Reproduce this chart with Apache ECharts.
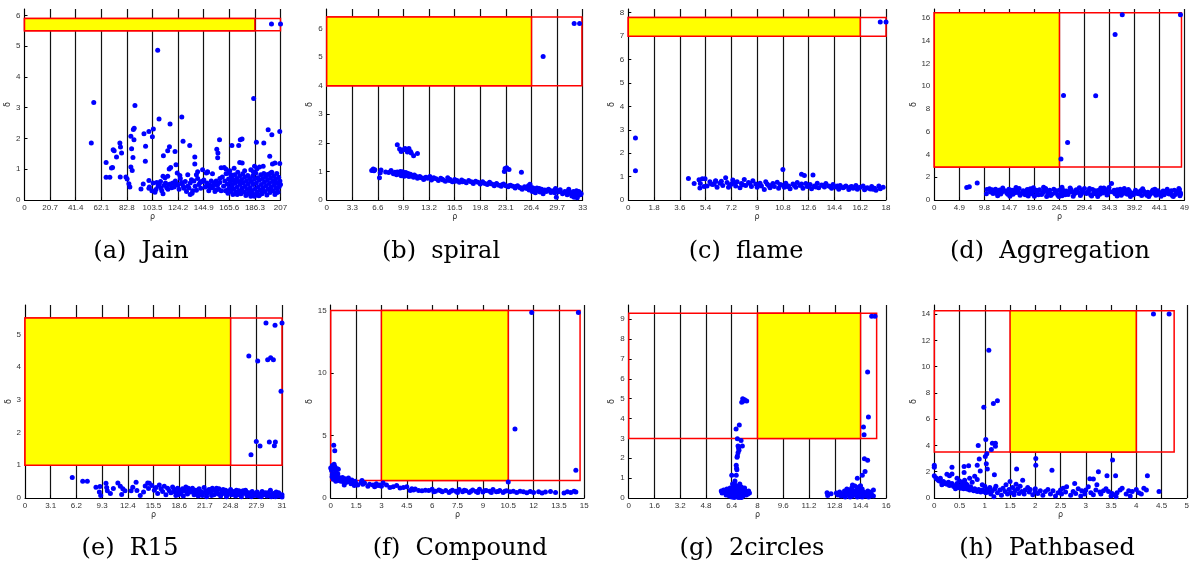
<!DOCTYPE html>
<html>
<head>
<meta charset="utf-8">
<script src="https://cdn.jsdelivr.net/npm/echarts@6/dist/echarts.min.js"></script>
<style>
html, body { margin: 0; padding: 0; background: #fff; }
#chart { width: 1192px; height: 567px; }
</style>
</head>
<body>
<div id="chart"></div>
<script>
// Decision graphs (rho vs delta) for eight benchmark data sets.
const captions = ['(a)  Jain', '(b)  spiral', '(c)  flame', '(d)  Aggregation',
                  '(e)  R15', '(f)  Compound', '(g)  2circles', '(h)  Pathbased'];

// Axis ranges and tick steps per panel
const xMax  = [207, 33, 18, 49, 31, 15, 16, 5];
const xStep = [20.7, 3.3, 1.8, 4.9, 3.1, 1.5, 1.6, 0.5];
const yMax  = [6.21, 6.68, 8.16, 16.77, 5.9, 15.45, 9.72, 14.69];
const yStep = [1, 1, 1, 2, 1, 5, 1, 2];

// Selection boxes [rhoMin, rhoMax, deltaMin, deltaMax]
const yellowBoxes = [[0, 186.3, 5.5, 5.9], [0, 26.4, 4, 6.4], [0, 16.2, 7, 7.8], [0, 24.5, 2.9, 16.45],
                     [0, 24.8, 1, 5.5], [3, 10.5, 1.4, 15], [8, 14.4, 3, 9.3], [1.5, 4, 3.5, 14.25]];
const redBoxes = [[0, 207, 5.5, 5.9], [0, 32.9, 4, 6.4], [0, 18, 7, 7.8], [0, 48.4, 2.9, 16.45],
                  [0, 31, 1, 5.5], [0, 14.75, 1.4, 15], [0, 15.4, 3, 9.3], [0, 4.75, 3.5, 14.25]];

// [rho, delta] points
const jainPoints = [
  [54,1.85],[56,3.17],[89.3,3.07],[107.7,4.87],[185.3,3.3],[199.7,5.72],[207,5.72],
  [108.8,2.63],[117.7,2.47],[127.2,2.7],[88.7,2.33],[88,2.29],[104.2,2.31],[100.6,2.23],[96.6,2.15],[103.4,2.06],
  [86,2.07],[88.5,1.96],[128.2,1.91],[117.2,1.73],[97.9,1.75],[77.1,1.85],[77.6,1.72],[78.5,1.53],[71.7,1.63],
  [72.5,1.6],[74.4,1.4],[86.6,1.67],[87.7,1.38],[97.7,1.26],[66,1.22],[70.3,1.04],[71.2,1.06],[66,0.74],[69,0.74],
  [77.4,0.75],[82,0.75],[83,0.68],[84.4,0.53],[85.2,0.42],[86,1.07],[87.1,0.96],[94.2,0.36],[96,0.52],[100.6,0.63],
  [100.6,0.38],[112.3,1.44],[115.8,1.6],[117,1.01],[118.2,1.06],[112,0.77],[113.6,0.72],[115.8,0.77],[106.9,0.57],
  [109,0.5],[110.4,0.39],[106.3,0.34],[105.5,0.25],[112,0.2],[115,0.4],[118,0.52],[121.7,1.58],[122.5,1.15],
  [123.5,0.88],[125.6,0.8],[123,0.53],[127,0.57],[128.5,0.44],[133.6,1.77],[137.7,1.4],[137.7,1.17],[135,0.66],
  [133,0.39],[136,0.3],[134,0.18],[139,0.82],[142,0.57],[144.5,0.6],[147,0.88],[148,0.92],[147,0.45],[150,0.39],
  [153,0.49],[155,0.33],[158,0.57],[155.5,1.65],[156.4,1.53],[156.2,1.37],[157.7,1.96],[159,1.05],[161.5,1.06],
  [163,1.0],[165,0.88],[167,0.82],[169.5,1.03],[173.2,1.77],[174.5,1.96],[175.9,1.98],[167.7,1.77],[174,1.22],
  [176,1.2],[187.5,1.88],[193.5,1.85],[197,2.28],[200,2.12],[206.4,2.23],[198.3,1.42],[200.5,1.17],[202.5,1.2],
  [206.4,1.19],[199,0.88],[193,1.1],[190,1.07],[185,0.92],
  [120,0.55],[121,0.42],[122,0.62],[124,0.48],[125,0.35],[126,0.7],[127.5,0.52],[129,0.38],[130,0.6],[131,0.28],
  [132,0.45],[134,0.55],[135.5,0.22],[137,0.62],[138,0.45],[139,0.32],[140,0.7],[141,0.5],[142.5,0.38],[143,0.6],
  [145,0.65],[146,0.42],[147.5,0.55],[149,0.3],[150,0.48],[151,0.62],[152,0.4],[153.5,0.56],[154,0.28],[155,0.62],
  [156,0.48],[157,0.35],[158,0.7],[159,0.3],[132,0.82],[140,0.92],[144,0.98],[152,0.85],[148,0.9],
  [101,0.42],[103,0.3],[104,0.55],[108,0.45],[110,0.6],[111,0.3],[113,0.48],[114,0.55],[116,0.35],[117,0.5],[119,0.4],
  [160,0.75],[161,0.45],[162,0.62],[162.5,0.3],[163,0.85],[164,0.52],[164.5,0.22],[165,0.68],[165.5,0.4],[166,0.95],
  [166.5,0.58],[167,0.28],[167.5,0.72],[168,0.48],[168.5,0.18],[169,0.64],[169.5,0.35],[170,0.82],[170.5,0.55],
  [171,0.25],[171.5,0.7],[172,0.42],[172.5,0.9],[173,0.6],[173.5,0.3],[174,0.78],[174.5,0.5],[175,0.2],[175.5,0.66],
  [176,0.38],[176.5,0.85],[177,0.56],[177.5,0.26],[178,0.74],[178.5,0.44],[179,0.15],[179.5,0.62],[180,0.34],
  [180.5,0.8],[181,0.52],[181.5,0.22],[182,0.7],[182.5,0.4],[183,0.12],[183.5,0.6],[184,0.3],[184.5,0.78],[185,0.5],
  [185.5,0.18],[186,0.68],[186.5,0.36],[187,0.88],[187.5,0.55],[188,0.25],[188.5,0.72],[189,0.42],[189.5,0.14],
  [190,0.64],[190.5,0.32],[191,0.82],[191.5,0.5],[192,0.2],[192.5,0.7],[193,0.4],[193.5,0.86],[194,0.58],[194.5,0.28],
  [195,0.76],[195.5,0.46],[196,0.16],[196.5,0.66],[197,0.36],[197.5,0.84],[198,0.54],[198.5,0.24],[199,0.72],
  [199.5,0.42],[200,0.9],[200.5,0.6],[201,0.3],[201.5,0.78],[202,0.48],[202.5,0.18],[203,0.68],[203.5,0.38],
  [204,0.86],[204.5,0.56],[205,0.26],[205.5,0.74],[206,0.44],[206.5,0.62],[207,0.5],[178,0.95],[183,0.98],
  [188,1.02],[186,1.1],[180,0.2],[182,0.28],[184,0.16],[186,0.12],[188,0.2],[190,0.16],[192,0.3],[176,0.28],
  [172,0.18],[168,0.38],[164,0.32],[196,0.82],[198,0.34],[202,0.62],[204,0.24],[205,0.4]
];

const spiralPoints = [
  [5.8,1.03],[6.0,1.08],[6.1,1.02],[6.2,1.06],[6.8,0.78],[6.9,0.95],[7.0,1.05],[7.6,0.98],[8.0,0.96],[8.3,1.03],
  [8.6,0.92],[8.8,0.97],[9.0,0.88],[9.2,0.95],[9.4,0.9],[9.6,0.85],[9.8,0.99],[9.9,0.92],[10.0,0.83],[10.2,0.96],
  [10.4,0.88],[10.6,0.82],[10.8,0.9],[11.0,0.85],[11.2,0.8],[11.5,0.83],[11.7,0.76],[12.0,0.82],[12.2,0.78],
  [12.5,0.72],[12.8,0.8],[13.0,0.76],[13.3,0.82],[13.5,0.7],[13.8,0.78],[14.1,0.74],[14.4,0.68],[14.7,0.76],
  [15.0,0.7],[15.3,0.66],[15.6,0.78],[15.9,0.72],[16.2,0.64],[16.5,0.72],[16.8,0.68],[17.1,0.62],[17.4,0.7],
  [17.7,0.66],[18.0,0.6],[18.3,0.68],[18.6,0.64],[18.9,0.58],[19.2,0.66],[19.5,0.62],[19.8,0.56],[20.1,0.64],
  [20.4,0.58],[20.7,0.54],[21.0,0.62],[21.3,0.56],[21.6,0.5],[21.9,0.58],[22.2,0.52],[22.5,0.48],[22.8,0.56],
  [23.1,0.5],[23.4,0.46],[23.7,0.52],[24.0,0.48],[24.3,0.42],[24.6,0.5],[24.9,0.44],[25.2,0.38],[25.5,0.46],
  [25.8,0.4],[26.1,0.35],[26.2,0.55],[26.4,0.44],[26.5,0.3],[26.7,0.38],[26.9,0.25],[27.1,0.42],[27.3,0.33],
  [27.5,0.28],[27.7,0.38],[27.9,0.22],[28.1,0.35],[28.3,0.3],[28.6,0.38],[28.9,0.26],[29.2,0.32],[29.5,0.4],
  [29.6,0.1],[29.8,0.28],[30.1,0.36],[30.4,0.22],[30.7,0.3],[31.0,0.18],[31.2,0.38],[31.4,0.26],[31.6,0.14],
  [31.8,0.3],[32.0,0.2],[32.2,0.32],[32.4,0.16],[32.6,0.26],[32.8,0.22],[31.9,0.1],[32.3,0.08],
  [9.1,0.98],[9.5,1.0],[9.7,0.93],[10.1,0.9],[10.3,0.86],[10.5,0.93],[10.9,0.84],[11.3,0.87],[11.9,0.8],[12.6,0.77],
  [13.6,0.74],[14.9,0.73],[15.8,0.68],[16.6,0.66],[17.5,0.64],[18.8,0.62],[19.9,0.6],[20.9,0.58],[21.8,0.55],
  [22.6,0.53],[23.5,0.5],[24.4,0.47],[25.0,0.42],[25.6,0.43],[26.0,0.5],[26.3,0.4],[26.6,0.42],[27.0,0.36],
  [27.4,0.4],[27.8,0.31],[28.4,0.34],[28.8,0.33],[29.4,0.25],[30.0,0.3],[30.6,0.26],[31.1,0.3],[31.5,0.22],
  [32.1,0.25],[32.5,0.3],[32.7,0.18],
  [9.1,1.93],[9.4,1.78],[9.6,1.7],[9.9,1.76],[10.1,1.8],[10.6,1.8],[10.8,1.7],[10.9,1.64],[11.2,1.55],[11.7,1.63],
  [10.4,1.68],[22.9,1.0],[23.0,1.1],[23.2,1.13],[23.5,1.07],[25.1,0.97],[27.9,5.02],[31.9,6.17],[32.6,6.17]
];

const flamePoints = [
  [0.5,1.25],[0.5,2.65],[17.6,7.6],[18,7.6],[10.8,1.3],[12.1,1.1],[12.3,1.05],[12.9,1.07],[4.2,0.92],
  [4.6,0.71],[4.94,0.87],[5.0,0.51],[5.03,0.71],[5.17,0.91],[5.36,0.91],[5.3,0.58],[5.8,0.68],[6.1,0.8],
  [5.5,0.6],[5.7,0.78],[5.9,0.66],[6.1,0.82],[6.2,0.55],[6.4,0.72],[6.6,0.62],[6.8,0.95],[6.9,0.75],[7.0,0.55],
  [7.2,0.68],[7.3,0.85],[7.5,0.6],[7.6,0.78],[7.8,0.52],[7.9,0.7],[8.1,0.88],[8.2,0.62],[8.4,0.75],[8.6,0.58],
  [8.7,0.82],[8.9,0.68],[9.0,0.55],[9.2,0.72],[9.3,0.6],[9.5,0.45],[9.6,0.78],[9.8,0.62],[9.9,0.52],[10.1,0.7],
  [10.2,0.58],[10.4,0.76],[10.5,0.5],[10.7,0.64],[10.9,0.55],[11.0,0.72],[11.2,0.6],[11.3,0.48],[11.5,0.68],
  [11.7,0.55],[11.8,0.75],[12.0,0.62],[12.2,0.5],[12.4,0.7],[12.5,0.58],[12.7,0.66],[12.8,0.48],[13.0,0.6],
  [13.2,0.72],[13.3,0.52],[13.5,0.64],[13.7,0.56],[13.8,0.7],[14.0,0.6],[14.2,0.5],[14.3,0.66],[14.5,0.56],
  [14.7,0.46],[14.8,0.62],[15.0,0.52],[15.2,0.6],[15.4,0.45],[15.5,0.56],[15.7,0.5],[15.9,0.62],[16.0,0.46],
  [16.2,0.55],[16.4,0.6],[16.5,0.44],[16.7,0.52],[16.9,0.47],[17.0,0.58],[17.2,0.5],[17.3,0.42],[17.5,0.6],
  [17.6,0.48],[17.8,0.55],
  [6.0,0.68],[6.5,0.8],[7.1,0.62],[7.4,0.72],[8.0,0.65],[8.5,0.7],[9.1,0.64],[9.7,0.68],[10.0,0.62],[10.6,0.66],
  [11.1,0.58],[11.6,0.62],[12.1,0.68],[12.6,0.6],[13.1,0.56],[13.6,0.62],[14.1,0.58],[14.6,0.6],[15.1,0.56],
  [15.6,0.58],[16.1,0.52],[16.6,0.5],[17.1,0.46]
];

const aggregationPoints = [
  [6.35,1.1],[6.86,1.17],[8.4,1.49],[24.8,3.59],[25.3,9.17],[26.1,5.05],[31.6,9.15],[35.4,14.54],[36.8,16.26],[48.2,16.26],
  [10.2,0.55],[10.3,0.92],[10.8,0.98],[11.3,0.9],[11.8,0.85],[12.2,0.6],[12.6,0.75],[13.0,0.52],[13.4,1.05],[13.8,0.8],
  [14.2,0.62],[14.6,0.95],[15.0,0.72],[15.4,0.5],[15.8,0.88],[16.2,0.66],[16.6,1.02],[17.0,0.58],[17.4,0.82],
  [17.8,0.45],[18.2,0.92],[18.6,0.7],[19.0,0.55],[19.4,1.08],[19.8,0.78],[20.2,0.6],[20.6,0.9],[21.0,0.48],
  [21.4,0.75],[21.8,1.0],[22.2,0.62],[22.6,0.85],[23.0,0.5],[23.4,0.95],[23.8,0.7],[24.2,0.42],[24.6,0.88],
  [25.0,1.12],[25.4,0.6],[25.8,0.8],[26.2,0.48],[26.6,1.05],[27.0,0.72],[27.4,0.55],[27.8,0.9],[28.2,0.65],
  [28.6,0.4],[29.0,0.85],[29.4,1.0],[29.8,0.58],[30.2,0.78],[30.6,0.46],[31.0,0.92],[31.4,0.68],[31.8,0.52],
  [32.2,0.86],[32.6,1.05],[33.0,0.62],[33.4,0.8],[33.8,0.44],[34.2,1.1],[34.7,1.45],[35.0,0.7],[35.4,0.55],
  [35.8,0.9],[36.2,0.66],[36.6,0.42],[37.0,0.82],[37.4,0.6],[37.8,0.5],[38.2,0.78],[38.6,0.62],[39.0,0.45],
  [39.4,0.85],[39.8,0.58],[40.2,0.7],[40.6,0.4],[41.0,0.8],[41.4,0.55],[41.8,0.68],[42.2,0.48],[42.6,0.75],
  [43.0,0.6],[43.4,0.42],[43.8,0.82],[44.2,0.55],[44.6,0.68],[45.0,0.45],[45.4,0.78],[45.8,0.58],[46.2,0.65],
  [46.6,0.4],[47.0,0.85],[47.4,0.6],[47.8,0.72],[48.0,0.9],[48.2,0.5],
  [11.0,0.7],[11.5,0.58],[12.0,0.95],[12.8,0.88],[13.2,0.68],[14.0,0.78],[14.4,0.5],[15.2,0.85],[15.6,0.62],
  [16.4,0.8],[16.8,0.42],[17.6,0.7],[18.0,0.6],[18.8,0.98],[19.2,0.68],[20.0,0.85],[20.4,0.45],[21.2,0.62],
  [21.6,0.88],[22.4,0.72],[22.8,0.4],[23.6,0.62],[24.0,0.82],[24.8,0.58],[25.2,0.85],[25.6,0.45],[26.4,0.7],
  [26.8,0.9],[27.6,0.62],[28.0,0.8],[28.8,0.55],[29.2,0.7],[30.0,0.65],[30.4,1.02],[31.2,0.55],[31.6,0.82],
  [32.4,0.5],[32.8,0.72],[33.6,0.9],[34.0,0.6],[34.4,0.75],[35.2,0.85],[35.6,0.62],[36.4,0.95],[36.8,0.58],
  [37.6,0.72],[38.0,0.92],[38.8,0.5],[39.2,0.66],[40.0,0.55],[40.4,0.82],[41.2,0.65],[41.6,0.42],[42.4,0.62],
  [42.8,0.88],[43.6,0.68],[44.0,0.5],[44.8,0.8],[45.2,0.62],[46.0,0.52],[46.4,0.82],[47.2,0.48],[47.6,0.78],
  [12.4,0.38],[14.8,0.32],[16.0,1.1],[18.4,0.35],[19.6,0.32],[21.4,1.12],[22.0,0.3],[24.4,0.3],[25.0,0.38],
  [27.2,0.32],[28.4,1.08],[30.8,0.35],[32.0,0.3],[33.2,1.05],[35.8,0.35],[37.2,1.02],[38.4,0.3],[40.8,0.98],
  [42.0,0.3],[43.2,0.95],[44.4,0.32],[45.6,0.95],[46.8,0.3],[48.1,0.38],[48.2,0.62],[47.9,1.0]
];

const r15Points = [
  [5.7,0.63],[6.96,0.51],[7.52,0.51],[8.56,0.33],[9.05,0.35],[8.97,0.18],[9.13,0.08],[9.77,0.45],[9.85,0.32],
  [9.93,0.22],[10.3,0.14],[10.66,0.29],[11.2,0.46],[11.5,0.36],[11.8,0.28],[12.06,0.22],[11.66,0.11],[12.8,0.22],
  [13.0,0.33],[13.4,0.48],[13.5,0.23],[13.9,0.08],[14.3,0.18],[14.5,0.37],[14.8,0.46],[14.9,0.29],[15.3,0.38],
  [15.0,0.45],[15.6,0.24],[15.8,0.32],[16.0,0.14],[16.2,0.4],[16.4,0.28],[16.6,0.2],[16.8,0.36],[17.0,0.1],
  [17.2,0.3],[17.4,0.22],[17.6,0.16],[17.8,0.34],[18.0,0.26],[18.2,0.08],[18.4,0.3],[18.6,0.2],[18.8,0.14],
  [19.0,0.28],[19.2,0.22],[19.4,0.34],[19.6,0.12],[19.8,0.26],[20.0,0.18],[20.2,0.3],[20.4,0.1],[20.6,0.24],
  [20.8,0.16],[21.0,0.28],[21.2,0.2],[21.4,0.08],[21.6,0.32],[21.8,0.22],[22.0,0.14],[22.2,0.26],[22.4,0.18],
  [22.6,0.3],[22.8,0.1],[23.0,0.22],[23.2,0.16],[23.4,0.28],[23.6,0.06],[23.8,0.2],[24.0,0.14],[24.2,0.24],
  [24.4,0.1],[24.6,0.18],[24.8,0.26],[25.0,0.12],[25.2,0.2],[25.4,0.06],[25.6,0.16],[25.8,0.22],[26.0,0.1],
  [26.2,0.18],[26.4,0.14],[26.6,0.24],[26.8,0.06],[27.0,0.16],[27.2,0.12],[27.4,0.2],[27.6,0.08],[27.8,0.14],
  [28.0,0.18],[28.2,0.06],[28.4,0.12],[28.6,0.2],[28.8,0.1],[29.0,0.16],[29.2,0.06],[29.4,0.12],[29.6,0.24],
  [29.8,0.08],[30.0,0.14],[30.2,0.04],[30.4,0.1],[30.6,0.16],[30.8,0.06],[31.0,0.1],[31.0,0.03],
  [18.1,0.18],[18.9,0.24],[19.5,0.18],[20.3,0.2],[20.9,0.06],[21.5,0.16],[22.1,0.2],[22.7,0.24],[23.3,0.12],
  [23.9,0.26],[24.5,0.2],[25.1,0.16],[25.7,0.1],[26.3,0.22],[26.9,0.12],[27.5,0.14],[28.1,0.1],[28.7,0.14],
  [29.3,0.16],[29.9,0.12],[30.5,0.06],[30.9,0.08],[18.5,0.1],[19.1,0.06],[19.7,0.3],[20.5,0.14],[21.1,0.12],
  [21.9,0.04],[22.5,0.08],[23.1,0.3],[23.7,0.16],[24.3,0.04],[24.9,0.1],[25.5,0.24],[26.1,0.04],[26.7,0.18],
  [27.3,0.04],[27.9,0.08],[28.5,0.04],[29.1,0.1],[29.7,0.04],[30.3,0.18],
  [29.07,5.35],[30.16,5.28],[31,5.35],[27.0,4.34],[28.07,4.19],[29.27,4.23],[29.63,4.29],[29.96,4.23],[30.88,3.26],
  [27.9,1.73],[28.35,1.59],[29.47,1.71],[30.2,1.71],[30.08,1.6],[27.26,1.32]
];

const compoundPoints = [
  [0.0,2.4],[0.05,2.2],[0.1,2.6],[0.1,1.9],[0.15,2.3],[0.18,4.22],[0.24,3.79],[0.2,2.7],[0.22,1.8],[0.25,2.5],
  [0.28,2.0],[0.3,1.6],[0.32,2.2],[0.35,1.75],[0.38,2.35],[0.4,1.5],[0.42,1.95],[0.45,2.3],[0.5,1.65],[0.15,1.5],
  [0.08,1.7],[0.3,1.35],[0.45,1.4],[0.55,1.55],[0.6,1.35],[0.7,1.65],[0.75,1.3],[0.8,1.05],[0.85,1.55],[0.9,1.25],
  [1.0,1.4],[1.05,1.6],[1.1,1.3],[1.2,1.15],[1.25,1.45],[1.3,1.25],[1.4,1.0],[1.45,1.35],[1.5,1.15],[1.6,1.05],
  [1.8,1.25],[1.85,1.4],[1.9,1.1],[2.0,1.2],[2.2,0.95],[2.3,1.1],[2.5,1.05],[2.6,0.9],[2.7,1.15],[2.8,1.0],
  [2.9,1.05],[3.0,0.95],[3.1,1.2],[3.3,1.05],[3.5,0.85],[3.7,0.9],[3.9,1.0],[4.1,0.8],[4.3,0.85],[4.5,0.9],
  [4.7,0.6],[4.8,0.75],[4.9,0.65],[5.0,0.72],[5.2,0.6],[5.4,0.58],[5.6,0.62],
  [5.8,0.6],[6.0,0.7],[6.2,0.55],[6.4,0.65],[6.6,0.5],[6.8,0.6],[7.0,0.45],[7.2,0.62],[7.4,0.55],[7.6,0.68],
  [7.8,0.5],[8.0,0.58],[8.2,0.45],[8.4,0.65],[8.6,0.52],[8.8,0.7],[9.0,0.48],[9.2,0.6],[9.4,0.55],[9.6,0.68],
  [9.8,0.5],[10.0,0.6],[10.2,0.45],[10.4,0.58],[10.6,0.5],[10.8,0.55],[11.0,0.45],[11.2,0.55],[11.4,0.5],
  [11.6,0.42],[11.8,0.52],[12.0,0.45],[12.3,0.5],[12.5,0.4],[12.7,0.48],[13.0,0.52],[13.3,0.45],[13.8,0.4],
  [14.0,0.5],[14.2,0.45],[14.4,0.55],[14.5,0.48],[6.1,0.5],[6.5,0.58],[7.1,0.55],[7.5,0.45],[7.9,0.62],[8.3,0.55],
  [8.7,0.45],[9.1,0.58],[9.5,0.45],[9.9,0.52],[10.3,0.55],
  [11.89,14.84],[14.65,14.84],[10.9,5.52],[14.5,2.22],[10.5,1.28]
];

const circlesPoints = [
  [5.75,0.35],[5.8,0.25],[5.9,0.4],[6.0,0.3],[6.05,0.15],[6.1,0.45],[6.15,0.25],[6.2,0.35],[6.25,0.1],[6.3,0.5],
  [6.3,0.2],[6.35,0.3],[6.4,0.05],[6.4,0.4],[6.45,0.15],[6.5,0.55],[6.5,0.25],[6.55,0.35],[6.6,0.1],[6.6,0.45],
  [6.65,0.2],[6.7,0.6],[6.7,0.3],[6.75,0.05],[6.75,0.4],[6.8,0.15],[6.8,0.5],[6.85,0.25],[6.9,0.35],[6.9,0.1],
  [6.95,0.45],[7.0,0.2],[7.0,0.55],[7.05,0.3],[7.1,0.1],[7.1,0.4],[7.15,0.2],[7.2,0.5],[7.2,0.25],[7.25,0.35],
  [7.3,0.15],[7.35,0.3],[7.4,0.2],[7.45,0.35],[7.5,0.25],[6.55,0.02],[6.85,0.02],[7.0,0.02],[6.6,0.65],[6.9,0.7],
  [6.45,0.7],
  [7.08,5.0],[7.02,4.82],[7.15,4.88],[7.33,4.88],[7.2,4.95],[6.87,3.68],[6.67,3.48],[6.75,2.99],[6.98,2.9],
  [7.06,2.62],[6.79,2.62],[6.85,2.4],[6.79,2.28],[6.75,2.12],[6.68,1.65],[6.7,1.5],[6.72,1.42],[6.68,1.14],
  [6.4,1.14],[6.6,0.86],[6.83,2.5],[6.73,2.05],
  [12.32,0.27],[12.36,0.13],[12.57,0.22],[12.9,0.25],[13.0,0.15],[13.1,0.3],[13.2,0.1],[13.3,0.2],[13.4,0.35],
  [13.45,0.05],[13.5,0.25],[13.6,0.15],[13.65,0.4],[13.7,0.3],[13.75,0.05],[13.8,0.2],[13.85,0.5],[13.9,0.1],
  [13.95,0.35],[14.0,0.25],[14.05,0.6],[14.1,0.15],[14.15,0.4],[14.2,0.05],[14.25,0.3],[14.3,0.55],[14.3,0.2],
  [14.35,0.1],[14.4,0.35],[14.45,0.25],[14.5,0.45],[14.5,0.05],[14.55,0.15],[14.6,0.3],[14.65,0.2],[14.7,0.1],
  [14.75,0.25],[14.8,0.15],[14.85,0.35],[14.9,0.05],[14.95,0.2],[15.0,0.1],[15.05,0.3],[15.1,0.15],[15.2,0.4],
  [15.2,0.1],[13.55,0.45],[14.2,1.0],[13.9,0.65],[14.4,0.62],
  [15.09,9.15],[15.3,9.15],[14.84,6.35],[14.89,4.08],[14.58,3.58],[14.62,3.19],[14.64,1.98],[14.84,1.9],
  [14.68,1.34],[14.51,1.14]
];

const pathbasedPoints = [
  [0,1.7],[0,2.5],[0,2.35],[0.03,1.55],[0.05,1.45],[0.08,1.35],[0.1,1.3],[0.12,1.5],[0.15,1.2],[0.18,1.25],
  [0.2,1.1],[0.22,1.15],[0.25,1.05],[0.28,1.2],[0.3,0.95],[0.32,1.0],[0.35,1.1],[0.38,0.9],[0.4,0.85],[0.42,0.95],
  [0.45,1.1],[0.48,0.8],[0.5,0.9],[0.52,0.75],[0.55,0.95],[0.58,0.7],[0.6,0.8],[0.62,1.1],[0.65,0.68],[0.68,0.75],
  [0.7,0.6],[0.72,0.85],[0.75,0.65],[0.78,0.55],[0.8,0.7],[0.82,0.6],[0.85,0.5],[0.88,0.65],[0.9,0.55],[0.92,0.45],
  [0.95,0.6],[0.98,0.5],[1.0,0.55],[1.02,0.4],[1.05,0.65],[1.08,0.45],
  [0.35,2.35],[0.35,1.82],[0.59,2.4],[0.68,2.45],[0.85,2.5],[0.91,2.05],[0.59,1.95],[0.25,1.8],[0.3,1.7],
  [0.45,1.5],[0.5,1.3],[0.6,1.35],[0.7,1.5],[0.55,1.2],[0.75,1.2],[0.85,1.4],[0.8,1.65],[0.95,1.0],[1.0,0.9],
  [0.15,1.0],[0.42,0.7],[0.65,1.0],
  [4.34,14.0],[4.65,14.0],[1.08,11.25],[0.98,6.9],[1.17,7.2],[1.25,7.4],[1.02,4.45],[1.15,4.17],[1.21,4.17],
  [1.21,3.94],[0.87,3.99],[1.04,3.36],[1.13,3.69],[1.01,3.16],[0.89,2.96],[2.01,3.0],[2.01,2.5],[3.53,2.9],
  [3.25,2.0],[2.33,2.12],[3.42,1.69],[3.59,1.69],[4.22,1.69],[3.08,1.47],[1.63,2.2],[1.19,1.77],[1.03,2.6],[1.05,2.2],
  [1.1,0.8],[1.12,0.3],[1.15,0.55],[1.18,0.1],[1.2,0.7],[1.22,0.9],[1.25,0.4],[1.3,0.6],[1.33,0.2],[1.36,0.75],
  [1.4,0.5],[1.42,1.0],[1.45,0.3],[1.48,0.65],[1.5,1.25],[1.52,0.4],[1.55,0.8],[1.58,0.25],[1.6,0.55],[1.62,1.05],
  [1.65,0.7],[1.68,0.35],[1.7,0.9],[1.73,0.5],[1.75,1.35],[1.78,0.3],[1.8,0.6],[1.85,0.8],[1.88,0.45],[1.9,0.65],
  [1.95,0.25],[2.0,0.7],[2.0,0.5],[2.05,0.35],[2.1,0.55],[2.15,0.2],[2.2,0.5],[2.25,0.65],[2.3,0.3],[2.35,0.55],
  [2.4,0.15],[2.45,0.4],[2.5,0.6],[2.52,0.3],[2.55,0.75],[2.6,0.45],[2.62,0.85],[2.7,0.2],[2.75,0.5],[2.78,1.1],
  [2.8,0.35],[2.85,0.7],[2.9,0.15],[2.92,0.55],[2.98,0.3],[3.0,0.6],[3.05,0.85],[3.1,0.4],[3.15,0.25],[3.2,0.6],
  [3.22,1.0],[3.28,0.45],[3.3,0.3],[3.35,0.55],[3.4,0.7],[3.45,0.5],[3.5,0.15],[3.52,0.35],[3.55,0.25],[3.6,0.1],
  [3.62,0.4],[3.68,0.6],[3.72,0.75],[3.8,0.3],[3.85,0.55],[3.88,0.15],[3.92,0.5],[4.0,0.65],[4.05,0.4],[4.1,0.3],
  [4.15,0.75],[4.2,0.6],[4.45,0.5],[3.15,1.45]
];

const panelPoints = [jainPoints, spiralPoints, flamePoints, aggregationPoints,
                     r15Points, compoundPoints, circlesPoints, pathbasedPoints];

// Layout of the 2x4 panel grid (pixels)
const gridLeft   = [24.5, 326.7, 628.3, 934.3, 25, 330.7, 628.7, 934.3];
const gridWidth  = [256, 256, 257.7, 254.7, 257, 253.6, 257.6, 255.7];
const gridTop    = [9, 9, 9, 9, 305, 305, 305, 305];
const gridHeight = [191, 191, 191, 191, 193, 193, 193, 193];
const captionX   = [141, 441, 746, 1050, 130, 460, 752, 1047];
const captionY   = [251.5, 251.5, 251.5, 251.5, 549, 549, 549, 549];

const tickFont = { fontFamily: 'Liberation Sans, Arial, sans-serif', fontSize: 8, color: '#333' };
const fmt = v => String(+(+v).toFixed(2));

function boxRenderer(fill) {
  return function (params, api) {
    const p0 = api.coord([api.value(0), api.value(3)]);
    const p1 = api.coord([api.value(1), api.value(2)]);
    return {
      type: 'rect',
      shape: { x: p0[0], y: p0[1], width: p1[0] - p0[0], height: p1[1] - p0[1] },
      style: { fill: fill, stroke: '#ff0000', lineWidth: 1.5 }
    };
  };
}

const grids = [], xAxes = [], yAxes = [], series = [], graphics = [];
for (let i = 0; i < 8; i++) {
  grids.push({ left: gridLeft[i], top: gridTop[i], width: gridWidth[i], height: gridHeight[i], containLabel: false });
  xAxes.push({
    type: 'value', gridIndex: i, min: 0, max: xMax[i], interval: xStep[i],
    name: 'ρ', nameLocation: 'middle', nameGap: 13,
    nameTextStyle: { fontFamily: 'DejaVu Sans', fontSize: 8, color: '#333' },
    axisLine: { show: true, onZero: false, lineStyle: { color: '#000', width: 1 } },
    axisTick: { show: true, inside: true, length: 3, lineStyle: { color: '#000' } },
    axisLabel: Object.assign({ margin: 4, formatter: fmt, showMinLabel: true, showMaxLabel: true, hideOverlap: false }, tickFont),
    splitLine: { show: true, lineStyle: { color: '#111', width: 1.2 } }
  });
  yAxes.push({
    type: 'value', gridIndex: i, min: 0, max: yMax[i], interval: yStep[i],
    name: 'δ', nameLocation: 'middle', nameGap: 12,
    nameTextStyle: { fontFamily: 'DejaVu Sans', fontSize: 8, color: '#333' },
    axisLine: { show: true, onZero: false, lineStyle: { color: '#000', width: 1 } },
    axisTick: { show: true, inside: true, length: 3, lineStyle: { color: '#000' } },
    axisLabel: Object.assign({ margin: 4, formatter: fmt, showMaxLabel: false }, tickFont),
    splitLine: { show: false }
  });
  series.push({
    type: 'custom', xAxisIndex: i, yAxisIndex: i, z: 1, silent: true,
    renderItem: boxRenderer('none'), data: [redBoxes[i]]
  });
  series.push({
    type: 'custom', xAxisIndex: i, yAxisIndex: i, z: 2, silent: true,
    renderItem: boxRenderer('#ffff00'), data: [yellowBoxes[i]]
  });
  series.push({
    type: 'scatter', xAxisIndex: i, yAxisIndex: i, z: 3, silent: true,
    symbol: 'circle', symbolSize: 5, itemStyle: { color: '#0000ff', opacity: 1 },
    data: panelPoints[i]
  });
  graphics.push({
    type: 'text', x: captionX[i], y: captionY[i],
    style: {
      text: captions[i], fill: '#000', font: '24px "DejaVu Serif", serif',
      textAlign: 'center', textVerticalAlign: 'middle'
    }
  });
}

const chart = echarts.init(document.getElementById('chart'), null, { renderer: 'canvas' });
chart.setOption({
  animation: false,
  backgroundColor: '#fff',
  grid: grids,
  xAxis: xAxes,
  yAxis: yAxes,
  series: series,
  graphic: graphics
});
</script>
</body>
</html>
